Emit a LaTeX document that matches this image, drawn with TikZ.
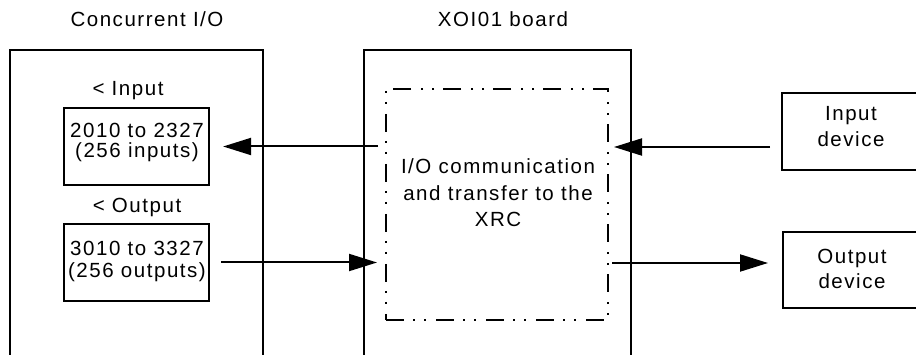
\documentclass[tikz,border=0pt]{standalone}
\usepackage{fontspec}
\setmainfont{Liberation Sans}[LetterSpace=7.5]
\usetikzlibrary{arrows.meta}
\begin{document}
\begin{tikzpicture}[x=1pt,y=-1pt,
  lbl/.style={inner sep=0pt, align=center, font=\fontsize{20.5}{22}\selectfont},
  box/.style={draw, line width=2.2pt, inner sep=0pt},
  frame/.style={line width=2.2pt},
  arr/.style={line width=2pt, -{Triangle[length=28pt,width=17pt]}},
  dashdot/.style={line width=2.2pt, dash pattern=on 18pt off 9pt on 2pt off 9pt on 2pt off 10pt}]
\useasboundingbox (0,0) rectangle (916,355);
\clip (0,0) rectangle (916,355);

% titles
\node[lbl] (t1) at (147,19) {Concurrent I/O};
\node[lbl] (t2) at (503,19.5) {XOI01 board};

% left frame (open at bottom)
\coordinate (lf1) at (10,360);
\coordinate (lf2) at (10,50);
\coordinate (lf3) at (263,50);
\coordinate (lf4) at (263,360);
\draw[frame] (lf1) -- (lf2) -- (lf3) -- (lf4);

% middle frame (open at bottom)
\coordinate (mf1) at (364,360);
\coordinate (mf2) at (364,50);
\coordinate (mf3) at (631,50);
\coordinate (mf4) at (631,360);
\draw[frame] (mf1) -- (mf2) -- (mf3) -- (mf4);

% left inner boxes
\node[lbl] (inlbl) at (128,91) {< Input};
\node[box, minimum width=145pt, minimum height=77pt] (inbox) at (136.5,146.5) {};
\node[lbl, font=\fontsize{20.5}{20.5}\selectfont] (intxt) at (137,142.5) {2010 to 2327\\(256 inputs)};

\node[lbl] (outlbl) at (137,207) {< Output};
\node[box, minimum width=145pt, minimum height=77pt] (outbox) at (136.5,262.5) {};
\node[lbl, font=\fontsize{20.5}{22}\selectfont] (outtxt) at (137,261.5) {3010 to 3327\\(256 outputs)};

% dash-dot inner box
\node[draw, dashdot, inner sep=0pt, minimum width=222pt, minimum height=231pt] (dbox) at (497,204.5) {};
\node[lbl, font=\fontsize{20.5}{26.5}\selectfont] (dtxt) at (498,193) {I/O communication\\and transfer to the\\XRC};

% devices (right side cut by page)
\coordinate (id1) at (920,93);
\coordinate (id2) at (782,93);
\coordinate (id3) at (782,170);
\coordinate (id4) at (920,170);
\draw[frame] (id1) -- (id2) -- (id3) -- (id4);
\node[lbl, font=\fontsize{20.5}{26}\selectfont] (idtxt) at (851,126.5) {Input\\device};

\coordinate (od1) at (920,232);
\coordinate (od2) at (783,232);
\coordinate (od3) at (783,308);
\coordinate (od4) at (920,308);
\draw[frame] (od1) -- (od2) -- (od3) -- (od4);
\node[lbl, font=\fontsize{20.5}{25}\selectfont] (odtxt) at (852,269) {Output\\device};

% arrows
\coordinate (a1s) at (378,146.5);
\draw[arr] (a1s) -- ([xshift=13pt]inbox.east);
\coordinate (a2e) at (377,262.5);
\draw[arr] ([xshift=11pt]outbox.east) -- (a2e);
\coordinate (a3s) at (770,147);
\coordinate (a3e) at (614,147);
\draw[arr] (a3s) -- (a3e);
\coordinate (a4s) at (612,263);
\coordinate (a4e) at (768,263);
\draw[arr] (a4s) -- (a4e);
\end{tikzpicture}
\end{document}
